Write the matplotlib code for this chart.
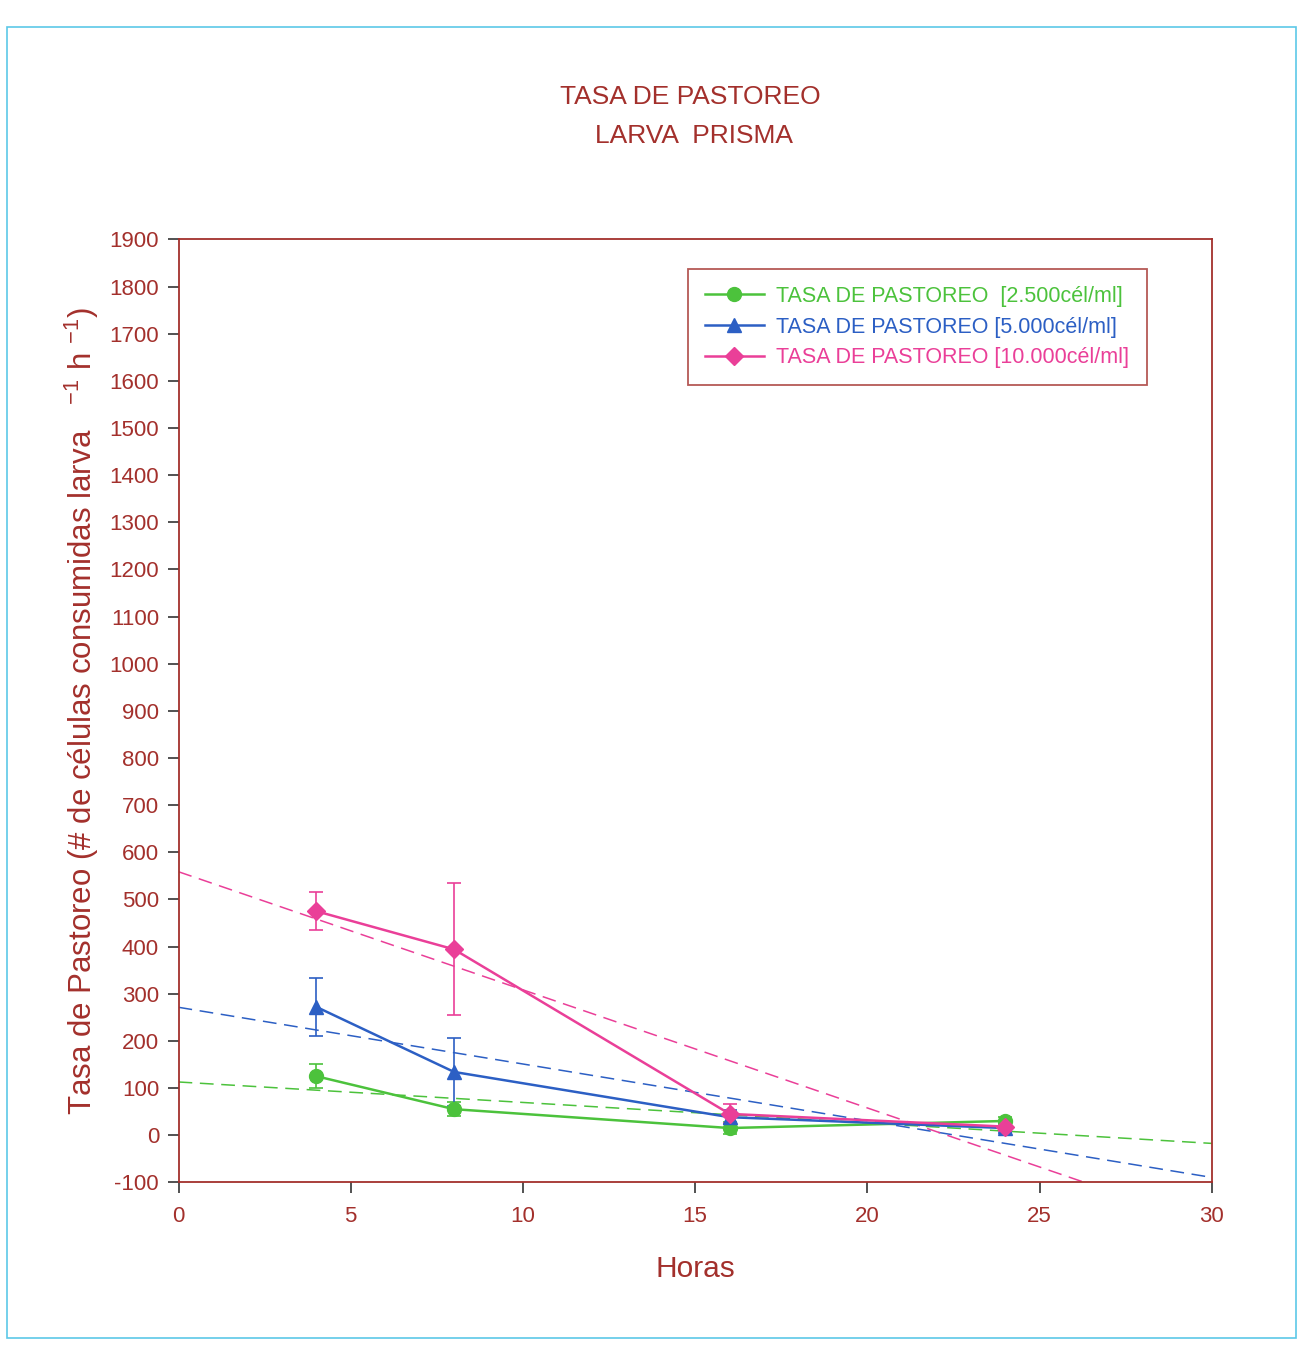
import numpy as np
import matplotlib.pyplot as plt
from matplotlib.patches import Rectangle

# Tasa de pastoreo, larva prisma
horas = [4, 8, 16, 24]
tasa_2500 = [125, 55, 15, 30]
err_2500 = [25, 15, 12, 8]
tasa_5000 = [272, 134, 38, 15]
err_5000 = [62, 72, 15, 10]
tasa_10000 = [475, 394, 45, 18]
err_10000 = [40, 140, 20, 10]

series = [
    ('TASA DE PASTOREO  [2.500cél/ml]', tasa_2500, err_2500, '#4cc23c', 'o'),
    ('TASA DE PASTOREO [5.000cél/ml]', tasa_5000, err_5000, '#2c5fc4', '^'),
    ('TASA DE PASTOREO [10.000cél/ml]', tasa_10000, err_10000, '#ea3f98', 'D'),
]

RED = '#a3302c'
plt.rcParams['font.family'] = ['Liberation Sans', 'DejaVu Sans']
plt.rcParams['mathtext.fontset'] = 'custom'
plt.rcParams['mathtext.rm'] = 'Liberation Sans'
plt.rcParams['axes.unicode_minus'] = False

fig = plt.figure(figsize=(13.03, 13.45), dpi=100)
ax = fig.add_axes([0.137, 0.121, 0.793, 0.701])

# page border
fig.patches.append(Rectangle((0.005, 0.005), 0.99, 0.975, transform=fig.transFigure,
                             fill=False, edgecolor='#5cc8e8', lw=1.2))

xfit = np.array([0, 30])
handles = []
for label, y, err, color, marker in series:
    ms = 10 if marker != 'D' else 9
    ax.errorbar(horas, y, yerr=err, color=color, ecolor=color, elinewidth=1.2,
                capsize=5, capthick=1.2, lw=0, zorder=3)
    h, = ax.plot(horas, y, color=color, lw=1.8, marker=marker, markersize=ms,
                 label=label, zorder=4)
    handles.append(h)
    # linear trend
    m, b = np.polyfit(horas, y, 1)
    ax.plot(xfit, m * xfit + b, color=color, lw=1.1, ls=(0, (9, 5)), zorder=2)

ax.set_xlim(0, 30)
ax.set_ylim(-100, 1900)
ax.set_xticks(range(0, 31, 5))
ax.set_yticks(range(-100, 1901, 100))
ax.tick_params(direction='out', length=8, width=1.2, colors='#333333',
               labelcolor=RED, labelsize=16, pad=6)
ax.tick_params(axis='x', pad=9)
for s in ax.spines.values():
    s.set_color(RED)
    s.set_linewidth(1.3)

ax.set_xlabel('Horas', fontsize=21.5, color=RED, labelpad=20)
ax.set_ylabel(r'Tasa de Pastoreo (# de células consumidas larva   $^{-1}$ h $^{-1}$)',
              fontsize=22.5, color=RED)
ax.yaxis.set_label_coords(-0.075, 0.50)

fig.text(0.53, 0.928, 'TASA DE PASTOREO', ha='center', va='center',
         fontsize=19, color=RED)
fig.text(0.533, 0.899, 'LARVA  PRISMA', ha='center', va='center',
         fontsize=19, color=RED)

leg = ax.legend(handles=handles, loc='upper right', bbox_to_anchor=(0.937, 0.969),
                borderaxespad=0, fontsize=15.5, frameon=True, fancybox=False,
                handlelength=2.7, borderpad=0.8, labelspacing=0.45, handletextpad=0.6)
leg.get_frame().set_edgecolor(RED)
leg.get_frame().set_linewidth(1.3)
for txt, (_, _, _, color, _) in zip(leg.get_texts(), series):
    txt.set_color(color)

fig.savefig('out.png', dpi=100)
